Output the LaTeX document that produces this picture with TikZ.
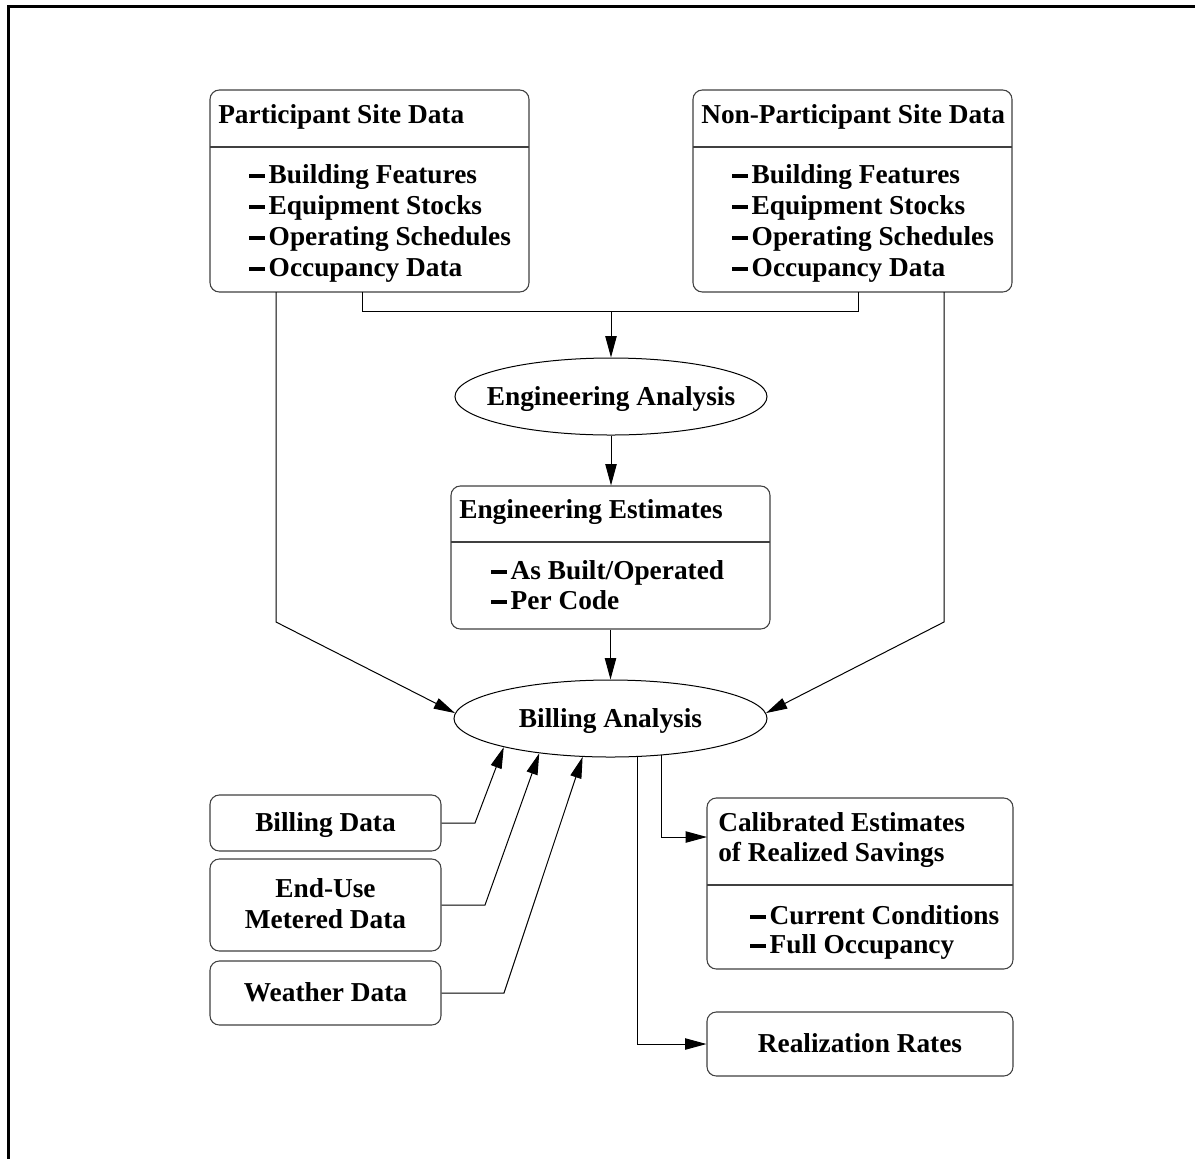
\documentclass[tikz,border=0pt]{standalone}
\usepackage{fontspec}
\setmainfont{Liberation Serif}
\usetikzlibrary{shapes.geometric,arrows.meta}

% bullet dash used in front of list entries
\newcommand\listdash{\rule[3.5pt]{12pt}{3pt}\hspace{2.6pt}}

\begin{document}
\begin{tikzpicture}[x=0.75pt,y=-0.75pt,
  every node/.style={font=\fontsize{20.5}{23.25}\selectfont\bfseries, inner sep=0pt},
  box/.style={draw=black!75, line width=0.8pt, rounded corners=7pt, fill=white},
  oval/.style={ellipse, draw=black, line width=0.75pt},
  ln/.style={line width=0.75pt},
  arr/.style={line width=0.75pt, -{Triangle[length=16pt,width=8.5pt]}},
  sep/.style={draw=black!75, line width=0.8pt},
  ttl/.style={anchor=base west},
  itm/.style={anchor=base west},
  ctr/.style={anchor=base}
]
\useasboundingbox (0,0) rectangle (1195,1158);

% page frame (top and left edges)
\draw[line width=2.5pt] (8.3,1170) -- (8.3,6.7) -- (1200,6.7);

% ---- site data boxes ----
\node[box, minimum width=319*0.75pt, minimum height=202*0.75pt] (psd) at (369.5,191) {};
\draw[sep] (210,147) -- (529,147);
\node[ttl] (psdt) at (218,123) {Participant Site Data};
\node[itm] (psd1) at (249,183) {\listdash Building Features};
\node[itm] (psd2) at (249,214) {\listdash Equipment Stocks};
\node[itm] (psd3) at (249,245) {\listdash Operating Schedules};
\node[itm] (psd4) at (249,276) {\listdash Occupancy Data};

\node[box, minimum width=319*0.75pt, minimum height=202*0.75pt] (npsd) at (852.5,191) {};
\draw[sep] (693,147) -- (1012,147);
\node[ttl] (npsdt) at (701,123) {Non-Participant Site Data};
\node[itm] (npsd1) at (732,183) {\listdash Building Features};
\node[itm] (npsd2) at (732,214) {\listdash Equipment Stocks};
\node[itm] (npsd3) at (732,245) {\listdash Operating Schedules};
\node[itm] (npsd4) at (732,276) {\listdash Occupancy Data};

% ---- engineering analysis ----
\node[oval, minimum width=312*0.75pt, minimum height=77*0.75pt] (ea) at (611,396.5) {};
\node[ctr] (eat) at (611,405) {Engineering Analysis};

\node[box, minimum width=319*0.75pt, minimum height=143*0.75pt] (ee) at (610.5,557.5) {};
\draw[sep] (451,542) -- (770,542);
\node[ttl] (eet) at (459,518) {Engineering Estimates};
\node[itm] (ee1) at (491,579) {\listdash As Built/Operated};
\node[itm] (ee2) at (491,609) {\listdash Per Code};

% ---- billing analysis ----
\node[oval, minimum width=313*0.75pt, minimum height=77*0.75pt] (bill) at (610.5,718.5) {};
\node[ctr] (billt) at (610.5,727) {Billing Analysis};

% ---- input data boxes ----
\node[box, minimum width=231*0.75pt, minimum height=56*0.75pt] (bd) at (325.5,823) {};
\node[ctr] (bdt) at (325.5,831) {Billing Data};
\node[box, minimum width=231*0.75pt, minimum height=92*0.75pt] (eu) at (325.5,905) {};
\node[ctr] (eut1) at (325.5,897) {End-Use};
\node[ctr] (eut2) at (325.5,928) {Metered Data};
\node[box, minimum width=231*0.75pt, minimum height=64*0.75pt] (wd) at (325.5,993) {};
\node[ctr] (wdt) at (325.5,1001) {Weather Data};

% ---- results ----
\node[box, minimum width=306*0.75pt, minimum height=171*0.75pt] (cal) at (860,883.5) {};
\draw[sep] (707,885) -- (1013,885);
\node[ttl] (calt1) at (718,831) {Calibrated Estimates};
\node[ttl] (calt2) at (718,861) {of Realized Savings};
\node[itm] (cal1) at (750,924) {\listdash Current Conditions};
\node[itm] (cal2) at (750,953) {\listdash Full Occupancy};

\node[box, minimum width=306*0.75pt, minimum height=64*0.75pt] (rr) at (860,1044) {};
\node[ctr] (rrt) at (860,1052) {Realization Rates};

% ---- connectors ----
\coordinate (pj) at (362,292);
\coordinate (nj) at (858,292);
\coordinate (j) at (611,311);
\draw[ln] (pj) |- (j) -| (nj);
\draw[arr] (j) -- (ea.north);
\draw[arr] (ea.south) -- (ea.south |- ee.north);
\draw[arr] (ee.south) -- (ee.south |- bill.north);

\coordinate (pl) at (276,292);
\coordinate (plb) at (276,622);
\draw[arr] (pl) -- (plb) -- (bill.178);
\coordinate (nl) at (944,292);
\coordinate (nlb) at (944,622);
\draw[arr] (nl) -- (nlb) -- (bill.2);

\coordinate (bdk) at (475,823);
\draw[arr] (bd.east) -- (bdk) -- (bill.195);
\coordinate (euk) at (485,905);
\draw[arr] (eu.east) -- (euk) -- (bill.206);
\coordinate (wdk) at (504,993);
\draw[arr] (wd.east) -- (wdk) -- (bill.234);

\coordinate (calin) at (707,837);
\draw[arr] (bill.324.7) |- (calin);
\draw[arr] (bill.305) |- (rr.west);
\end{tikzpicture}
\end{document}
